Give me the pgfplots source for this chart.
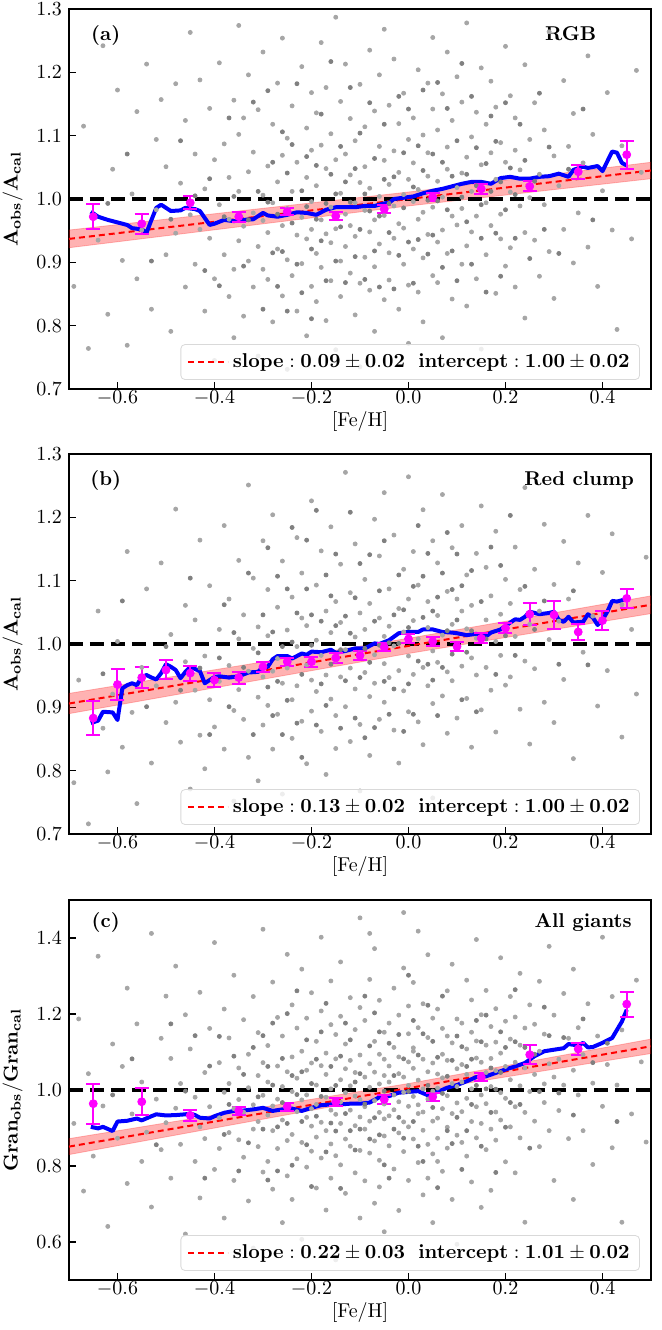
\documentclass[border=0pt]{standalone}
\usepackage{pgfplots}
\pgfplotsset{compat=1.18}
\definecolor{mag}{RGB}{255,0,255}
\definecolor{pblue}{RGB}{0,0,255}
\definecolor{pred}{RGB}{255,0,0}
\pgfplotsset{
  panel/.style={
    scale only axis, width=291pt, height=190pt,
    xmin=-0.7, xmax=0.5,
    xtick={-0.6,-0.4,-0.2,0,0.2,0.4},
    tick align=inside, tick pos=left,
    major tick length=3.5pt,
    tick style={line width=0.8pt, black},
    axis line style={line width=1pt},
    xticklabel style={yshift=2.5pt, /pgf/number format/.cd, fixed, fixed zerofill, precision=1},
    yticklabel style={/pgf/number format/.cd, fixed, fixed zerofill, precision=1},
    xlabel={[Fe/H]},
    xlabel style={yshift=4pt},
    clip=true,
    legend style={at={(0.981,0.024)}, anchor=south east, draw=black!15, rounded corners=2pt,
      fill=white, fill opacity=0.8, text opacity=1, inner xsep=3pt, inner ysep=2.5pt},
    legend image code/.code={\draw[#1] (0pt,0pt) -- (20pt,0pt);},
  },
  sc/.style={only marks, mark=*, mark size=1pt, color=black!35, mark options={draw=none, fill=black!35}, forget plot},
  sc2/.style={only marks, mark=*, mark size=1pt, color=black!50, mark options={draw=none, fill=black!50}, forget plot},
  band/.style={fill=pred, fill opacity=0.3, draw=pred, draw opacity=0.25, forget plot},
  one/.style={black, line width=2pt, dash pattern=on 7pt off 3.5pt, forget plot},
  fit/.style={pred, line width=1pt, dash pattern=on 3pt off 2pt},
  med/.style={pblue, line width=2pt, line join=round, forget plot},
  eb/.style={only marks, mark=*, mark size=2pt, color=mag, forget plot,
    error bars/.cd, y dir=both, y explicit,
    error bar style={line width=1pt, mag},
    error mark options={rotate=90, mark size=3.5pt, line width=1pt, mag}},
}
\begin{document}
\begin{tikzpicture}
\useasboundingbox (0,0) rectangle (331pt,665pt);
% ---------------- (a) ----------------
\begin{axis}[panel, at={(34.5pt,470.5pt)}, anchor=south west,
  ymin=0.7, ymax=1.3, ytick={0.7,0.8,0.9,1.0,1.1,1.2,1.3},
  ylabel={$\mathbf{A_{obs}/A_{cal}}$}]
\addplot[sc] coordinates {
(-0.69,0.862) (-0.67,1.115) (-0.66,0.764)
(-0.64,0.935) (-0.63,1.242) (-0.62,0.818) (-0.61,1.047)
(-0.60,1.172) (-0.59,0.903) (-0.58,0.769) (-0.57,1.008) (-0.56,1.138) (-0.56,0.874)
(-0.55,0.951) (-0.54,1.213) (-0.53,0.826) (-0.52,1.094) (-0.52,0.983) (-0.51,1.157) (-0.50,0.912)
(-0.50,1.051) (-0.49,0.791) (-0.48,1.182) (-0.48,0.946) (-0.47,1.025) (-0.46,0.861) (-0.46,1.124) (-0.45,0.975) (-0.45,1.263)
(-0.44,0.897) (-0.44,1.071) (-0.43,0.952) (-0.43,1.188) (-0.42,0.823) (-0.42,1.016) (-0.41,0.938) (-0.41,1.143) (-0.40,0.874) (-0.40,1.062) (-0.40,0.745)
(-0.39,0.991) (-0.39,1.215) (-0.38,0.912) (-0.38,1.087) (-0.37,0.846) (-0.37,1.034) (-0.37,0.968) (-0.36,1.156) (-0.36,0.889) (-0.36,0.781) (-0.35,1.012) (-0.35,1.102) (-0.35,0.934) (-0.35,1.274)
(-0.34,0.957) (-0.34,1.128) (-0.34,0.815) (-0.33,1.043) (-0.33,0.902) (-0.33,1.196) (-0.32,0.978) (-0.32,0.861) (-0.32,1.074) (-0.31,0.925) (-0.31,1.141) (-0.31,0.752) (-0.30,1.006) (-0.30,0.889) (-0.30,1.232) (-0.30,0.966)
(-0.29,1.052) (-0.29,0.873) (-0.29,0.947) (-0.28,1.118) (-0.28,0.994) (-0.28,0.806) (-0.27,1.027) (-0.27,0.921) (-0.27,1.183) (-0.26,0.958) (-0.26,1.069) (-0.26,0.847) (-0.26,1.254) (-0.25,0.985) (-0.25,0.904) (-0.25,1.096) (-0.25,0.731)
(-0.24,1.012) (-0.24,0.879) (-0.24,1.147) (-0.23,0.943) (-0.23,1.058) (-0.23,0.823) (-0.22,0.971) (-0.22,1.209) (-0.22,0.898) (-0.21,1.034) (-0.21,0.937) (-0.21,1.112) (-0.21,0.784) (-0.20,0.996) (-0.20,1.077) (-0.20,0.862) (-0.20,1.168) (-0.20,0.952)
(-0.19,1.021) (-0.19,0.914) (-0.19,1.136) (-0.19,0.838) (-0.18,0.967) (-0.18,1.085) (-0.18,0.892) (-0.18,1.247) (-0.17,0.945) (-0.17,1.048) (-0.17,0.808) (-0.17,1.176) (-0.16,0.987) (-0.16,0.871) (-0.16,1.103) (-0.16,0.931) (-0.15,1.062) (-0.15,0.953) (-0.15,0.762) (-0.15,1.287)
(-0.14,1.009) (-0.14,0.902) (-0.14,1.154) (-0.14,0.846) (-0.13,0.976) (-0.13,1.071) (-0.13,0.925) (-0.13,1.213) (-0.12,0.958) (-0.12,1.038) (-0.12,0.883) (-0.12,1.127) (-0.11,0.994) (-0.11,0.817) (-0.11,1.092) (-0.11,0.941) (-0.10,1.026) (-0.10,0.867) (-0.10,1.181) (-0.10,0.735)
(-0.09,0.982) (-0.09,1.114) (-0.09,0.908) (-0.09,1.051) (-0.08,0.948) (-0.08,1.235) (-0.08,0.856) (-0.08,1.017) (-0.07,0.967) (-0.07,1.139) (-0.07,0.893) (-0.07,0.791) (-0.06,1.004) (-0.06,1.083) (-0.06,0.929) (-0.06,1.196) (-0.05,0.974) (-0.05,0.841) (-0.05,1.061) (-0.05,1.268)
(-0.04,1.023) (-0.04,0.915) (-0.04,1.148) (-0.04,0.872) (-0.03,0.989) (-0.03,1.076) (-0.03,0.938) (-0.03,1.221) (-0.02,0.961) (-0.02,1.042) (-0.02,0.826) (-0.02,1.119) (-0.01,1.007) (-0.01,0.897) (-0.01,1.167) (-0.01,0.954) (0.00,1.031) (0.00,0.864) (0.00,1.094) (0.00,0.772)
(0.01,0.996) (0.01,1.128) (0.01,0.921) (0.01,1.057) (0.02,0.968) (0.02,1.204) (0.02,0.853) (0.02,1.015) (0.03,0.979) (0.03,1.101) (0.03,0.907) (0.03,0.806) (0.04,1.036) (0.04,1.073) (0.04,0.944) (0.04,1.183) (0.05,0.987) (0.05,0.879) (0.05,1.142) (0.05,1.255)
(0.06,1.028) (0.06,0.932) (0.06,1.109) (0.06,0.868) (0.07,1.003) (0.07,1.166) (0.07,0.951) (0.07,0.781) (0.08,1.047) (0.08,0.914) (0.08,1.082) (0.08,1.232) (0.09,0.973) (0.09,1.124) (0.09,0.842) (0.10,1.018) (0.10,0.959) (0.10,1.193)
(0.11,1.041) (0.11,0.897) (0.11,1.153) (0.11,0.985) (0.12,1.066) (0.12,0.926) (0.12,1.278) (0.12,0.831) (0.13,1.012) (0.13,1.098) (0.13,0.948) (0.14,1.137) (0.14,0.973) (0.14,0.874) (0.15,1.054) (0.15,1.207) (0.15,0.763)
(0.16,0.994) (0.16,1.118) (0.16,0.912) (0.17,1.073) (0.17,0.958) (0.17,1.186) (0.18,1.031) (0.18,0.851) (0.18,1.145) (0.19,0.976) (0.19,1.089) (0.19,0.937) (0.20,1.058) (0.20,1.241) (0.20,0.894)
(0.21,1.011) (0.21,1.163) (0.21,0.923) (0.22,1.077) (0.22,0.861) (0.22,1.128) (0.23,0.989) (0.23,1.046) (0.24,0.947) (0.24,1.212) (0.24,0.812) (0.25,1.094) (0.25,1.002)
(0.26,1.152) (0.26,0.935) (0.27,1.039) (0.27,0.878) (0.28,1.109) (0.28,0.991) (0.29,1.264) (0.29,0.917) (0.30,1.068) (0.30,0.843)
(0.31,1.021) (0.32,1.187) (0.32,0.952) (0.33,1.083) (0.34,0.899) (0.34,1.135) (0.35,0.978)
(0.36,1.057) (0.37,0.924) (0.37,1.226) (0.38,1.102) (0.39,0.862) (0.40,1.013)
(0.41,1.168) (0.42,0.951) (0.43,0.794) (0.44,1.084)
(0.46,0.937) (0.47,1.203) (0.48,1.042)
};
\addplot[sc2] coordinates {
(-0.62,0.993) (-0.58,1.071) (-0.53,0.902) (-0.49,0.968) (-0.47,1.092) (-0.44,1.005) (-0.42,0.887) (-0.41,1.032)
(-0.39,0.863) (-0.38,0.972) (-0.37,1.128) (-0.36,1.004) (-0.34,0.894) (-0.33,0.967) (-0.32,1.153) (-0.31,1.012)
(-0.30,0.826) (-0.29,0.995) (-0.29,1.171) (-0.28,0.915) (-0.28,1.058) (-0.27,0.862) (-0.27,0.976) (-0.26,1.106)
(-0.26,0.917) (-0.25,1.041) (-0.25,0.823) (-0.24,0.962) (-0.24,1.086) (-0.23,0.897) (-0.23,1.182) (-0.22,1.013)
(-0.22,0.852) (-0.21,0.988) (-0.21,1.067) (-0.20,0.921) (-0.20,0.811) (-0.19,1.053) (-0.19,0.968) (-0.18,0.934)
(-0.18,1.134) (-0.17,0.993) (-0.17,0.871) (-0.16,1.039) (-0.16,1.217) (-0.15,0.902) (-0.15,1.008) (-0.14,0.956)
(-0.14,1.083) (-0.13,0.868) (-0.13,1.027) (-0.12,0.995) (-0.12,1.176) (-0.11,0.909) (-0.11,1.048) (-0.10,0.952)
(-0.10,1.104) (-0.09,0.873) (-0.09,1.008) (-0.08,0.981) (-0.08,1.152) (-0.07,0.918) (-0.07,1.064) (-0.06,0.861)
(-0.06,0.973) (-0.05,1.031) (-0.05,1.118) (-0.04,0.947) (-0.04,0.993) (-0.03,0.858) (-0.03,1.035) (-0.02,1.162)
(-0.02,0.911) (-0.01,1.073) (-0.01,0.986) (0.00,0.932) (0.00,1.142) (0.01,1.019) (0.01,0.867) (0.02,1.084)
(0.02,0.936) (0.03,1.045) (0.03,1.172) (0.04,0.913) (0.04,0.998) (0.05,1.071) (0.05,0.943) (0.06,1.184)
(0.06,0.997) (0.07,1.058) (0.07,0.892) (0.08,0.983) (0.08,1.143) (0.09,1.036) (0.09,0.918) (0.10,1.092)
(0.10,0.871) (0.11,1.003) (0.11,1.214) (0.12,0.964) (0.12,1.039) (0.13,0.897) (0.13,1.162) (0.14,1.021)
(0.14,1.081) (0.15,0.938) (0.15,0.991) (0.16,1.056) (0.16,0.853) (0.17,1.012) (0.17,1.131) (0.18,0.946)
(0.18,1.091) (0.19,1.027) (0.19,0.878) (0.20,0.983) (0.20,1.152) (0.21,1.049) (0.22,0.938) (0.22,1.007)
(0.23,1.118) (0.24,1.061) (0.25,0.906) (0.26,1.028) (0.27,1.167) (0.28,0.952) (0.29,1.082) (0.31,0.914)
(0.33,1.047) (0.36,1.142) (0.38,0.967)
};
\addplot[band] coordinates {(-0.7,0.923) (0,0.989) (0.5,1.032) (0.5,1.058) (0,1.011) (-0.7,0.951)} --cycle;
\addplot[one] coordinates {(-0.7,1) (0.5,1)};
\addplot[fit] coordinates {(-0.7,0.937) (0.5,1.045)};
\addlegendentry{$\mathbf{slope:0.09\pm0.02\ \ intercept:1.00\pm0.02}$}
\addplot[med] coordinates {
(-0.655,0.980) (-0.64,0.972) (-0.62,0.967) (-0.60,0.963) (-0.58,0.959) (-0.57,0.954) (-0.55,0.952) (-0.54,0.947)
(-0.53,0.967) (-0.52,0.986) (-0.51,0.991) (-0.49,0.981) (-0.47,0.982) (-0.46,0.986) (-0.44,0.984) (-0.43,0.981)
(-0.41,0.959) (-0.40,0.961) (-0.38,0.967) (-0.36,0.965) (-0.34,0.967) (-0.32,0.968) (-0.30,0.978) (-0.29,0.974)
(-0.27,0.972) (-0.25,0.975) (-0.23,0.979) (-0.21,0.978) (-0.19,0.975) (-0.17,0.983) (-0.15,0.987) (-0.13,0.987)
(-0.11,0.987) (-0.09,0.989) (-0.07,0.989) (-0.05,0.993) (-0.04,0.994) (-0.03,1.000) (-0.01,1.002) (0.01,1.004)
(0.03,1.009) (0.05,1.013) (0.07,1.016) (0.09,1.020) (0.11,1.024) (0.13,1.027) (0.15,1.027) (0.17,1.024)
(0.19,1.033) (0.21,1.035) (0.23,1.032) (0.25,1.032) (0.27,1.035) (0.29,1.036) (0.31,1.040) (0.33,1.035)
(0.34,1.046) (0.36,1.051) (0.37,1.049) (0.39,1.052) (0.40,1.044) (0.42,1.075) (0.43,1.073) (0.44,1.057) (0.45,1.053)
};
\addplot[eb] coordinates {
(-0.65,0.972) +- (0,0.020) (-0.55,0.961) +- (0,0.016) (-0.45,0.994) +- (0,0.0105)
(-0.35,0.972) +- (0,0.008) (-0.25,0.980) +- (0,0.006) (-0.15,0.973) +- (0,0.0065)
(-0.05,0.984) +- (0,0.006) (0.05,1.003) +- (0,0.0065) (0.15,1.016) +- (0,0.008)
(0.25,1.020) +- (0,0.008) (0.35,1.043) +- (0,0.011) (0.45,1.070) +- (0,0.022)
};
\node[font=\bfseries, anchor=base] at (rel axis cs:0.063,0.918) {(a)};
\node[font=\bfseries, anchor=base east] at (rel axis cs:0.918,0.918) {RGB};
\end{axis}
% ---------------- (b) ----------------
\begin{axis}[panel, at={(34.5pt,248pt)}, anchor=south west,
  ymin=0.7, ymax=1.3, ytick={0.7,0.8,0.9,1.0,1.1,1.2,1.3},
  ylabel={$\mathbf{A_{obs}/A_{cal}}$}]
\addplot[sc] coordinates {
(-0.69,0.781) (-0.68,0.943) (-0.66,0.716)
(-0.64,1.052) (-0.63,0.867) (-0.62,0.798) (-0.61,0.921)
(-0.60,1.004) (-0.59,0.837) (-0.58,1.146) (-0.57,0.892) (-0.56,0.748)
(-0.55,0.963) (-0.54,1.087) (-0.53,0.812) (-0.52,0.934) (-0.51,1.128) (-0.50,0.876)
(-0.49,1.015) (-0.48,0.908) (-0.48,1.213) (-0.47,0.845) (-0.46,0.972) (-0.46,1.061) (-0.45,0.771)
(-0.44,0.927) (-0.44,1.038) (-0.43,0.856) (-0.43,1.164) (-0.42,0.981) (-0.42,0.803) (-0.41,1.092) (-0.41,0.912) (-0.40,0.869)
(-0.39,1.023) (-0.39,0.941) (-0.38,1.187) (-0.38,0.834) (-0.37,0.966) (-0.37,1.071) (-0.36,0.895) (-0.36,0.752) (-0.35,1.008) (-0.35,0.928) (-0.35,1.132)
(-0.34,0.881) (-0.34,1.046) (-0.33,0.957) (-0.33,1.251) (-0.33,0.821) (-0.32,0.993) (-0.32,1.104) (-0.31,0.916) (-0.31,1.027) (-0.31,0.784) (-0.30,0.948) (-0.30,1.163) (-0.30,0.872)
(-0.29,1.013) (-0.29,0.903) (-0.29,1.086) (-0.28,0.957) (-0.28,0.834) (-0.28,1.204) (-0.27,0.977) (-0.27,1.058) (-0.27,0.889) (-0.26,1.131) (-0.26,0.938) (-0.26,0.763) (-0.25,1.022) (-0.25,0.962)
(-0.24,0.912) (-0.24,1.074) (-0.24,0.851) (-0.23,0.996) (-0.23,1.168) (-0.23,0.934) (-0.22,1.041) (-0.22,0.878) (-0.22,1.112) (-0.21,0.967) (-0.21,0.811) (-0.21,1.029) (-0.20,0.943) (-0.20,1.226) (-0.20,0.894)
(-0.19,1.006) (-0.19,0.925) (-0.19,1.093) (-0.18,0.862) (-0.18,0.982) (-0.18,1.147) (-0.17,0.951) (-0.17,1.052) (-0.17,0.794) (-0.16,0.913) (-0.16,1.018) (-0.16,1.185) (-0.15,0.974) (-0.15,0.887) (-0.15,1.067) (-0.15,0.835)
(-0.14,1.034) (-0.14,0.948) (-0.14,1.126) (-0.13,0.901) (-0.13,0.991) (-0.13,1.271) (-0.12,0.962) (-0.12,1.081) (-0.12,0.846) (-0.11,1.011) (-0.11,0.929) (-0.11,1.158) (-0.10,0.873) (-0.10,0.986) (-0.10,1.049) (-0.10,0.768)
(-0.09,0.955) (-0.09,1.102) (-0.09,1.023) (-0.08,0.917) (-0.08,1.064) (-0.08,0.824) (-0.07,0.983) (-0.07,1.197) (-0.07,0.938) (-0.06,1.041) (-0.06,0.881) (-0.06,1.139) (-0.05,0.969) (-0.05,1.012) (-0.05,0.908) (-0.05,1.239)
(-0.04,1.028) (-0.04,0.947) (-0.04,1.087) (-0.03,0.864) (-0.03,0.997) (-0.03,1.172) (-0.02,0.958) (-0.02,1.056) (-0.02,0.812) (-0.01,1.019) (-0.01,0.926) (-0.01,1.118) (0.00,0.981) (0.00,1.071) (0.00,0.893) (0.00,1.264)
(0.01,1.037) (0.01,0.952) (0.01,1.146) (0.02,0.877) (0.02,1.008) (0.02,1.093) (0.03,0.963) (0.03,1.212) (0.03,0.841) (0.04,1.026) (0.04,0.934) (0.04,1.067) (0.05,0.989) (0.05,1.163) (0.05,0.906) (0.05,0.757)
(0.06,1.045) (0.06,0.971) (0.06,1.128) (0.07,0.918) (0.07,1.014) (0.07,1.236) (0.08,0.956) (0.08,1.083) (0.08,0.859) (0.09,1.031) (0.09,0.942) (0.09,1.152) (0.10,0.994) (0.10,1.071) (0.10,0.883)
(0.11,1.052) (0.11,0.965) (0.11,1.187) (0.12,0.914) (0.12,1.024) (0.12,1.109) (0.13,0.978) (0.13,0.837) (0.13,1.061) (0.14,1.143) (0.14,0.951) (0.14,1.009) (0.15,1.218) (0.15,0.896)
(0.16,1.038) (0.16,0.963) (0.16,1.121) (0.17,0.927) (0.17,1.076) (0.18,1.004) (0.18,1.178) (0.18,0.861) (0.19,1.047) (0.19,0.982) (0.20,1.102) (0.20,0.935)
(0.21,1.064) (0.21,0.948) (0.22,1.153) (0.22,1.012) (0.23,0.897) (0.23,1.086) (0.24,1.247) (0.24,0.973) (0.25,1.031) (0.25,0.842)
(0.26,1.118) (0.26,0.961) (0.27,1.052) (0.28,0.908) (0.28,1.189) (0.29,1.007) (0.30,1.094) (0.30,0.876)
(0.31,1.036) (0.32,1.162) (0.32,0.944) (0.33,1.071) (0.34,0.819) (0.35,1.128)
(0.36,0.987) (0.37,1.203) (0.38,1.044) (0.39,0.902) (0.40,1.113)
(0.41,0.958) (0.42,1.174) (0.44,1.062) (0.44,0.853)
(0.46,1.023) (0.47,0.921) (0.49,1.137)
};
\addplot[sc2] coordinates {
(-0.63,0.953) (-0.59,1.068) (-0.54,0.901) (-0.50,0.996) (-0.47,0.927) (-0.45,1.104) (-0.43,0.962) (-0.41,0.857)
(-0.39,0.978) (-0.38,1.062) (-0.37,0.901) (-0.36,1.018) (-0.34,0.963) (-0.33,1.112) (-0.32,0.857) (-0.31,0.986)
(-0.30,1.046) (-0.29,0.932) (-0.29,1.152) (-0.28,1.019) (-0.28,0.887) (-0.27,1.107) (-0.27,0.941) (-0.26,0.996)
(-0.26,0.857) (-0.25,1.087) (-0.25,0.911) (-0.24,1.003) (-0.24,1.184) (-0.23,0.875) (-0.23,1.049) (-0.22,0.952)
(-0.22,0.821) (-0.21,1.087) (-0.21,1.164) (-0.20,0.998) (-0.20,1.046) (-0.19,0.872) (-0.19,1.211) (-0.18,0.937)
(-0.18,1.036) (-0.17,1.109) (-0.17,0.903) (-0.16,0.968) (-0.16,1.076) (-0.15,1.029) (-0.15,1.142) (-0.14,0.867)
(-0.14,0.991) (-0.13,1.044) (-0.13,0.942) (-0.12,1.017) (-0.12,1.208) (-0.11,0.883) (-0.11,1.073) (-0.10,0.947)
(-0.10,1.127) (-0.09,0.852) (-0.09,0.993) (-0.08,1.141) (-0.08,0.971) (-0.07,1.036) (-0.07,0.868) (-0.06,0.998)
(-0.06,1.084) (-0.05,0.941) (-0.05,1.163) (-0.04,0.889) (-0.04,1.002) (-0.03,1.046) (-0.03,0.929) (-0.02,1.109)
(-0.02,1.001) (-0.01,0.862) (-0.01,1.054) (0.00,1.026) (0.00,0.937) (0.01,1.091) (0.01,0.889) (0.02,0.973)
(0.02,1.187) (0.03,1.042) (0.03,1.107) (0.04,0.968) (0.04,1.143) (0.05,1.052) (0.05,0.943) (0.06,0.887)
(0.06,1.074) (0.07,1.112) (0.07,0.963) (0.08,1.021) (0.08,1.176) (0.09,0.984) (0.09,1.086) (0.10,1.038)
(0.10,1.142) (0.11,0.912) (0.11,1.092) (0.12,0.987) (0.13,1.116) (0.13,1.021) (0.14,0.893) (0.15,1.067)
(0.16,1.008) (0.17,1.153) (0.18,0.952) (0.19,1.124) (0.20,1.013) (0.21,1.203) (0.22,0.982) (0.24,1.091)
(0.26,1.023) (0.28,1.068) (0.31,0.968) (0.34,1.084) (0.37,0.967)
};
\addplot[band] coordinates {(-0.7,0.890) (0,0.985) (0.5,1.048) (0.5,1.076) (0,1.009) (-0.7,0.922)} --cycle;
\addplot[one] coordinates {(-0.7,1) (0.5,1)};
\addplot[fit] coordinates {(-0.7,0.906) (0.5,1.062)};
\addlegendentry{$\mathbf{slope:0.13\pm0.02\ \ intercept:1.00\pm0.02}$}
\addplot[med] coordinates {
(-0.655,0.875) (-0.64,0.879) (-0.63,0.893) (-0.61,0.892) (-0.60,0.880) (-0.59,0.930) (-0.58,0.935) (-0.57,0.938)
(-0.56,0.935) (-0.55,0.948) (-0.54,0.951) (-0.53,0.947) (-0.52,0.944) (-0.51,0.954) (-0.50,0.968) (-0.49,0.964)
(-0.48,0.959) (-0.47,0.946) (-0.46,0.956) (-0.45,0.964) (-0.43,0.957) (-0.42,0.938) (-0.41,0.943) (-0.40,0.948)
(-0.39,0.949) (-0.37,0.947) (-0.35,0.949) (-0.33,0.955) (-0.31,0.956) (-0.30,0.964) (-0.29,0.964) (-0.28,0.976)
(-0.27,0.981) (-0.25,0.981) (-0.24,0.977) (-0.22,0.985) (-0.21,0.983) (-0.20,0.988) (-0.18,0.987) (-0.16,0.991)
(-0.15,0.986) (-0.13,0.989) (-0.11,0.993) (-0.09,0.993) (-0.07,1.001) (-0.06,1.000) (-0.04,1.006) (-0.02,1.017)
(0.00,1.019) (0.02,1.019) (0.03,1.023) (0.05,1.023) (0.07,1.019) (0.09,1.018) (0.10,1.017) (0.12,1.014)
(0.14,1.016) (0.16,1.012) (0.17,1.018) (0.19,1.023) (0.21,1.034) (0.22,1.039) (0.23,1.038) (0.24,1.043)
(0.25,1.051) (0.27,1.047) (0.29,1.049) (0.30,1.051) (0.31,1.038) (0.32,1.035) (0.33,1.043) (0.34,1.034)
(0.36,1.035) (0.37,1.047) (0.38,1.042) (0.39,1.030) (0.40,1.038) (0.41,1.051) (0.42,1.068) (0.43,1.067)
(0.44,1.069) (0.45,1.072)
};
\addplot[eb] coordinates {
(-0.65,0.883) +- (0,0.027) (-0.60,0.936) +- (0,0.024) (-0.55,0.947) +- (0,0.017)
(-0.50,0.959) +- (0,0.015) (-0.45,0.954) +- (0,0.012) (-0.40,0.943) +- (0,0.011)
(-0.35,0.947) +- (0,0.0095) (-0.30,0.964) +- (0,0.0075) (-0.25,0.972) +- (0,0.0065)
(-0.20,0.972) +- (0,0.008) (-0.15,0.978) +- (0,0.0075) (-0.10,0.982) +- (0,0.007)
(-0.05,0.995) +- (0,0.0068) (0.00,1.008) +- (0,0.007) (0.05,1.004) +- (0,0.007)
(0.10,0.996) +- (0,0.0075) (0.15,1.009) +- (0,0.008) (0.20,1.025) +- (0,0.008)
(0.25,1.047) +- (0,0.017) (0.30,1.046) +- (0,0.022) (0.35,1.019) +- (0,0.013)
(0.40,1.037) +- (0,0.015) (0.45,1.072) +- (0,0.015)
};
\node[font=\bfseries, anchor=base] at (rel axis cs:0.063,0.918) {(b)};
\node[font=\bfseries, anchor=base east] at (rel axis cs:0.983,0.918) {Red clump};
\end{axis}
% ---------------- (c) ----------------
\begin{axis}[panel, at={(34.5pt,25pt)}, anchor=south west,
  ymin=0.5, ymax=1.5, ytick={0.6,0.8,1.0,1.2,1.4},
  ylabel={$\mathbf{Gran_{obs}/Gran_{cal}}$}]
\addplot[sc] coordinates {
(-0.69,0.912) (-0.68,1.187) (-0.67,0.734) (-0.66,1.043)
(-0.65,0.826) (-0.64,1.352) (-0.63,0.958) (-0.62,0.641) (-0.61,1.121)
(-0.60,0.873) (-0.59,1.062) (-0.58,1.268) (-0.58,0.754) (-0.57,0.937) (-0.56,1.174) (-0.55,0.812)
(-0.55,1.021) (-0.54,0.889) (-0.53,1.412) (-0.53,0.692) (-0.52,0.976) (-0.51,1.136) (-0.51,0.843) (-0.50,1.247)
(-0.50,0.914) (-0.49,0.768) (-0.49,1.083) (-0.48,0.952) (-0.48,1.326) (-0.47,0.857) (-0.47,1.017) (-0.46,0.621) (-0.46,1.198) (-0.45,0.938)
(-0.45,1.108) (-0.44,0.812) (-0.44,0.981) (-0.43,1.257) (-0.43,0.903) (-0.43,0.716) (-0.42,1.046) (-0.42,0.872) (-0.41,1.162) (-0.41,0.956) (-0.40,0.791) (-0.40,1.388)
(-0.39,0.927) (-0.39,1.072) (-0.39,0.846) (-0.38,1.213) (-0.38,0.994) (-0.38,0.663) (-0.37,0.888) (-0.37,1.137) (-0.37,1.017) (-0.36,0.762) (-0.36,0.951) (-0.36,1.302) (-0.35,0.869) (-0.35,1.058) (-0.35,0.975)
(-0.34,1.185) (-0.34,0.823) (-0.34,0.942) (-0.33,1.094) (-0.33,0.708) (-0.33,1.006) (-0.32,0.897) (-0.32,1.246) (-0.32,0.961) (-0.32,0.584) (-0.31,1.038) (-0.31,0.851) (-0.31,1.151) (-0.31,0.917) (-0.30,0.784) (-0.30,1.072) (-0.30,0.986) (-0.30,1.423)
(-0.29,0.934) (-0.29,1.117) (-0.29,0.812) (-0.29,1.021) (-0.28,0.958) (-0.28,1.284) (-0.28,0.739) (-0.28,0.893) (-0.27,1.063) (-0.27,0.976) (-0.27,1.191) (-0.27,0.846) (-0.26,0.651) (-0.26,1.009) (-0.26,0.921) (-0.26,1.142) (-0.25,0.867) (-0.25,1.048) (-0.25,0.952) (-0.25,1.357) (-0.25,0.774)
(-0.24,0.996) (-0.24,1.087) (-0.24,0.883) (-0.24,1.224) (-0.24,0.712) (-0.23,0.943) (-0.23,1.031) (-0.23,0.819) (-0.23,1.163) (-0.22,0.974) (-0.22,0.862) (-0.22,1.102) (-0.22,1.318) (-0.22,0.607) (-0.21,0.928) (-0.21,1.052) (-0.21,0.797) (-0.21,1.189) (-0.21,0.987) (-0.20,0.905) (-0.20,1.071) (-0.20,0.839) (-0.20,1.256) (-0.20,0.951)
(-0.19,1.013) (-0.19,0.876) (-0.19,1.128) (-0.19,0.742) (-0.19,0.962) (-0.18,1.064) (-0.18,0.915) (-0.18,1.208) (-0.18,0.821) (-0.18,1.402) (-0.17,0.981) (-0.17,0.893) (-0.17,1.097) (-0.17,0.684) (-0.17,1.041) (-0.16,0.947) (-0.16,1.172) (-0.16,0.858) (-0.16,1.003) (-0.16,0.768) (-0.16,1.287) (-0.15,0.936) (-0.15,1.082) (-0.15,0.827) (-0.15,1.146) (-0.15,0.971) (-0.15,0.553)
(-0.14,1.027) (-0.14,0.912) (-0.14,1.194) (-0.14,0.803) (-0.14,0.968) (-0.14,1.337) (-0.13,1.056) (-0.13,0.871) (-0.13,0.993) (-0.13,1.121) (-0.13,0.728) (-0.12,0.947) (-0.12,1.078) (-0.12,0.852) (-0.12,1.243) (-0.12,1.011) (-0.11,0.906) (-0.11,1.159) (-0.11,0.782) (-0.11,0.984) (-0.11,1.046) (-0.10,0.929) (-0.10,1.217) (-0.10,0.841) (-0.10,1.092) (-0.10,0.663) (-0.10,0.975) (-0.10,1.453)
(-0.09,1.034) (-0.09,0.897) (-0.09,1.183) (-0.09,0.956) (-0.09,0.761) (-0.08,1.069) (-0.08,0.918) (-0.08,1.291) (-0.08,0.834) (-0.08,1.007) (-0.07,0.972) (-0.07,1.128) (-0.07,0.866) (-0.07,1.047) (-0.07,0.702) (-0.07,1.372) (-0.06,0.941) (-0.06,1.094) (-0.06,0.815) (-0.06,1.016) (-0.06,1.236) (-0.05,0.963) (-0.05,0.879) (-0.05,1.152) (-0.05,1.038) (-0.05,0.627) (-0.05,0.924) (-0.05,1.081) (-0.06,0.745) (-0.08,1.412)
(-0.04,1.021) (-0.04,0.932) (-0.04,1.176) (-0.04,0.853) (-0.04,1.063) (-0.03,0.987) (-0.03,1.112) (-0.03,0.792) (-0.03,1.268) (-0.03,0.948) (-0.02,1.043) (-0.02,0.887) (-0.02,1.197) (-0.02,0.969) (-0.02,0.683) (-0.02,1.087) (-0.01,0.916) (-0.01,1.034) (-0.01,1.321) (-0.01,0.838) (-0.01,0.994) (0.00,1.074) (0.00,0.903) (0.00,1.148) (0.00,0.957) (0.00,0.762) (0.00,1.221) (0.00,1.012) (-0.03,0.581) (-0.01,1.467)
(0.01,0.983) (0.01,1.102) (0.01,0.871) (0.01,1.057) (0.01,1.283) (0.02,0.938) (0.02,1.026) (0.02,0.809) (0.02,1.164) (0.02,0.961) (0.03,1.081) (0.03,0.894) (0.03,1.227) (0.03,1.003) (0.03,0.724) (0.03,0.942) (0.04,1.138) (0.04,0.857) (0.04,1.048) (0.04,0.976) (0.04,1.356) (0.05,0.918) (0.05,1.071) (0.05,0.832) (0.05,1.189) (0.05,0.997) (0.05,0.651) (0.02,1.418) (0.04,0.768) (0.01,1.111)
(0.06,1.042) (0.06,0.926) (0.06,1.213) (0.06,0.873) (0.06,1.005) (0.07,1.094) (0.07,0.951) (0.07,0.786) (0.07,1.162) (0.07,1.032) (0.08,0.902) (0.08,1.261) (0.08,0.985) (0.08,1.078) (0.08,0.847) (0.09,1.124) (0.09,0.938) (0.09,1.017) (0.09,0.712) (0.09,1.331) (0.10,0.966) (0.10,1.056) (0.10,0.881) (0.10,1.187) (0.10,1.009) (0.10,0.594) (0.08,1.142) (0.06,0.812)
(0.11,1.067) (0.11,0.943) (0.11,1.176) (0.11,0.862) (0.11,1.021) (0.12,1.108) (0.12,0.978) (0.12,1.289) (0.12,0.826) (0.12,1.041) (0.13,0.917) (0.13,1.152) (0.13,1.003) (0.13,0.758) (0.13,1.237) (0.14,1.084) (0.14,0.956) (0.14,1.129) (0.14,0.874) (0.14,1.396) (0.15,1.031) (0.15,0.912) (0.15,1.198) (0.15,0.987) (0.15,0.691) (0.15,1.073)
(0.16,1.118) (0.16,0.964) (0.16,1.046) (0.16,0.843) (0.16,1.262) (0.17,1.009) (0.17,1.167) (0.17,0.897) (0.17,1.083) (0.17,0.736) (0.18,1.051) (0.18,0.942) (0.18,1.214) (0.18,1.126) (0.18,0.868) (0.19,0.993) (0.19,1.097) (0.19,1.348) (0.19,0.921) (0.20,1.062) (0.20,0.811) (0.20,1.181) (0.20,0.978)
(0.21,1.134) (0.21,1.027) (0.21,0.903) (0.21,1.246) (0.22,1.073) (0.22,0.956) (0.22,1.192) (0.22,0.782) (0.23,1.011) (0.23,1.118) (0.23,0.874) (0.23,1.307) (0.24,1.058) (0.24,0.941) (0.24,1.163) (0.24,0.652) (0.25,1.089) (0.25,0.996) (0.25,1.224)
(0.26,1.041) (0.26,0.918) (0.26,1.173) (0.27,1.102) (0.27,0.851) (0.27,1.286) (0.28,1.016) (0.28,0.967) (0.28,1.147) (0.29,0.893) (0.29,1.069) (0.29,1.378) (0.30,1.034) (0.30,0.762) (0.30,1.197)
(0.31,1.081) (0.31,0.946) (0.32,1.254) (0.32,1.013) (0.33,0.872) (0.33,1.136) (0.34,1.052) (0.34,0.712) (0.34,1.318) (0.35,0.987) (0.35,1.164)
(0.36,1.093) (0.36,0.893) (0.37,1.227) (0.38,1.018) (0.38,0.804) (0.39,1.142) (0.40,0.957) (0.40,1.402)
(0.41,1.067) (0.42,0.848) (0.42,1.246) (0.43,1.013) (0.44,0.652) (0.44,1.158)
(0.46,0.937) (0.47,1.289) (0.48,1.074) (0.49,0.863)
};
\addplot[sc2] coordinates {
(-0.61,0.987) (-0.57,1.082) (-0.52,0.856) (-0.49,1.174) (-0.46,0.997) (-0.44,1.143) (-0.42,0.768) (-0.41,1.063)
(-0.39,1.141) (-0.38,0.883) (-0.37,0.962) (-0.36,1.089) (-0.35,0.787) (-0.34,1.041) (-0.33,0.861) (-0.32,1.112)
(-0.31,0.982) (-0.30,0.897) (-0.30,1.143) (-0.29,0.763) (-0.29,1.062) (-0.28,1.013) (-0.28,1.176) (-0.27,0.903)
(-0.27,0.787) (-0.26,1.083) (-0.26,0.967) (-0.25,1.201) (-0.25,0.912) (-0.24,1.038) (-0.24,0.802) (-0.23,0.988)
(-0.23,1.261) (-0.22,0.917) (-0.22,1.048) (-0.21,0.856) (-0.21,1.132) (-0.20,1.017) (-0.20,0.746) (-0.19,1.081)
(-0.19,0.931) (-0.18,0.983) (-0.18,1.153) (-0.17,0.837) (-0.17,1.228) (-0.16,1.062) (-0.16,0.913) (-0.15,1.012)
(-0.15,0.892) (-0.14,1.089) (-0.14,0.741) (-0.13,0.938) (-0.13,1.176) (-0.12,0.893) (-0.12,1.132) (-0.11,1.021)
(-0.11,0.842) (-0.10,1.043) (-0.10,0.897) (-0.09,1.247) (-0.09,0.963) (-0.08,0.871) (-0.08,1.116) (-0.07,0.927)
(-0.07,1.203) (-0.06,0.882) (-0.06,1.153) (-0.05,0.997) (-0.05,0.803) (-0.04,1.123) (-0.04,0.768) (-0.03,1.038)
(-0.03,0.897) (-0.02,1.146) (-0.02,0.928) (-0.01,1.082) (-0.01,0.873) (0.00,0.996) (0.00,1.302) (0.01,0.917)
(0.01,1.183) (0.02,1.092) (0.02,0.852) (0.03,1.148) (0.03,0.812) (0.04,1.012) (0.04,1.223) (0.05,0.954)
(0.05,1.128) (0.06,1.086) (0.06,0.743) (0.07,0.991) (0.07,1.247) (0.08,1.036) (0.08,0.893) (0.09,1.078)
(0.09,0.859) (0.10,1.142) (0.10,0.928) (0.11,1.114) (0.11,0.791) (0.12,1.062) (0.12,0.893) (0.13,1.081)
(0.13,0.962) (0.14,1.183) (0.14,1.012) (0.15,0.852) (0.15,1.127) (0.16,1.003) (0.16,1.197) (0.17,0.941)
(0.17,1.058) (0.18,1.002) (0.18,0.783) (0.19,1.153) (0.19,1.046) (0.20,0.902) (0.20,1.112) (0.21,0.967)
(0.22,1.127) (0.22,1.264) (0.23,0.962) (0.24,1.112) (0.25,0.847) (0.26,1.094) (0.27,0.996) (0.28,1.218)
(0.29,1.143) (0.31,0.992) (0.32,1.138) (0.34,0.934) (0.36,1.187) (0.38,1.072) (0.41,1.123) (0.43,0.917)
};
\addplot[band] coordinates {(-0.7,0.830) (0,0.993) (0.5,1.096) (0.5,1.134) (0,1.017) (-0.7,0.872)} --cycle;
\addplot[one] coordinates {(-0.7,1) (0.5,1)};
\addplot[fit] coordinates {(-0.7,0.851) (0.5,1.115)};
\addlegendentry{$\mathbf{slope:0.22\pm0.03\ \ intercept:1.01\pm0.02}$}
\addplot[med] coordinates {
(-0.655,0.903) (-0.64,0.899) (-0.63,0.903) (-0.61,0.892) (-0.60,0.917) (-0.58,0.919) (-0.56,0.925) (-0.55,0.920)
(-0.53,0.931) (-0.52,0.936) (-0.50,0.933) (-0.48,0.934) (-0.46,0.936) (-0.45,0.938) (-0.44,0.934) (-0.43,0.927)
(-0.41,0.925) (-0.40,0.931) (-0.38,0.940) (-0.36,0.945) (-0.34,0.946) (-0.32,0.949) (-0.30,0.953) (-0.28,0.945)
(-0.26,0.949) (-0.24,0.951) (-0.22,0.945) (-0.20,0.953) (-0.18,0.960) (-0.16,0.962) (-0.14,0.962) (-0.12,0.964)
(-0.10,0.964) (-0.08,0.967) (-0.06,0.981) (-0.04,0.984) (-0.02,0.993) (0.00,0.995) (0.02,0.997) (0.04,0.986)
(0.06,0.995) (0.08,1.006) (0.10,1.013) (0.12,1.023) (0.14,1.034) (0.16,1.036) (0.18,1.045) (0.20,1.054)
(0.22,1.062) (0.24,1.071) (0.26,1.089) (0.28,1.102) (0.30,1.106) (0.32,1.110) (0.33,1.121) (0.35,1.117)
(0.36,1.124) (0.37,1.112) (0.38,1.113) (0.40,1.124) (0.42,1.137) (0.44,1.180) (0.45,1.211)
};
\addplot[eb] coordinates {
(-0.65,0.964) +- (0,0.053) (-0.55,0.969) +- (0,0.035) (-0.45,0.933) +- (0,0.014)
(-0.35,0.945) +- (0,0.011) (-0.25,0.956) +- (0,0.011) (-0.15,0.969) +- (0,0.011)
(-0.05,0.975) +- (0,0.011) (0.05,0.982) +- (0,0.010) (0.15,1.034) +- (0,0.010)
(0.25,1.093) +- (0,0.025) (0.35,1.108) +- (0,0.016) (0.45,1.226) +- (0,0.033)
};
\node[font=\bfseries, anchor=base] at (rel axis cs:0.063,0.927) {(c)};
\node[font=\bfseries, anchor=base east] at (rel axis cs:0.979,0.927) {All giants};
\end{axis}
\end{tikzpicture}
\end{document}
